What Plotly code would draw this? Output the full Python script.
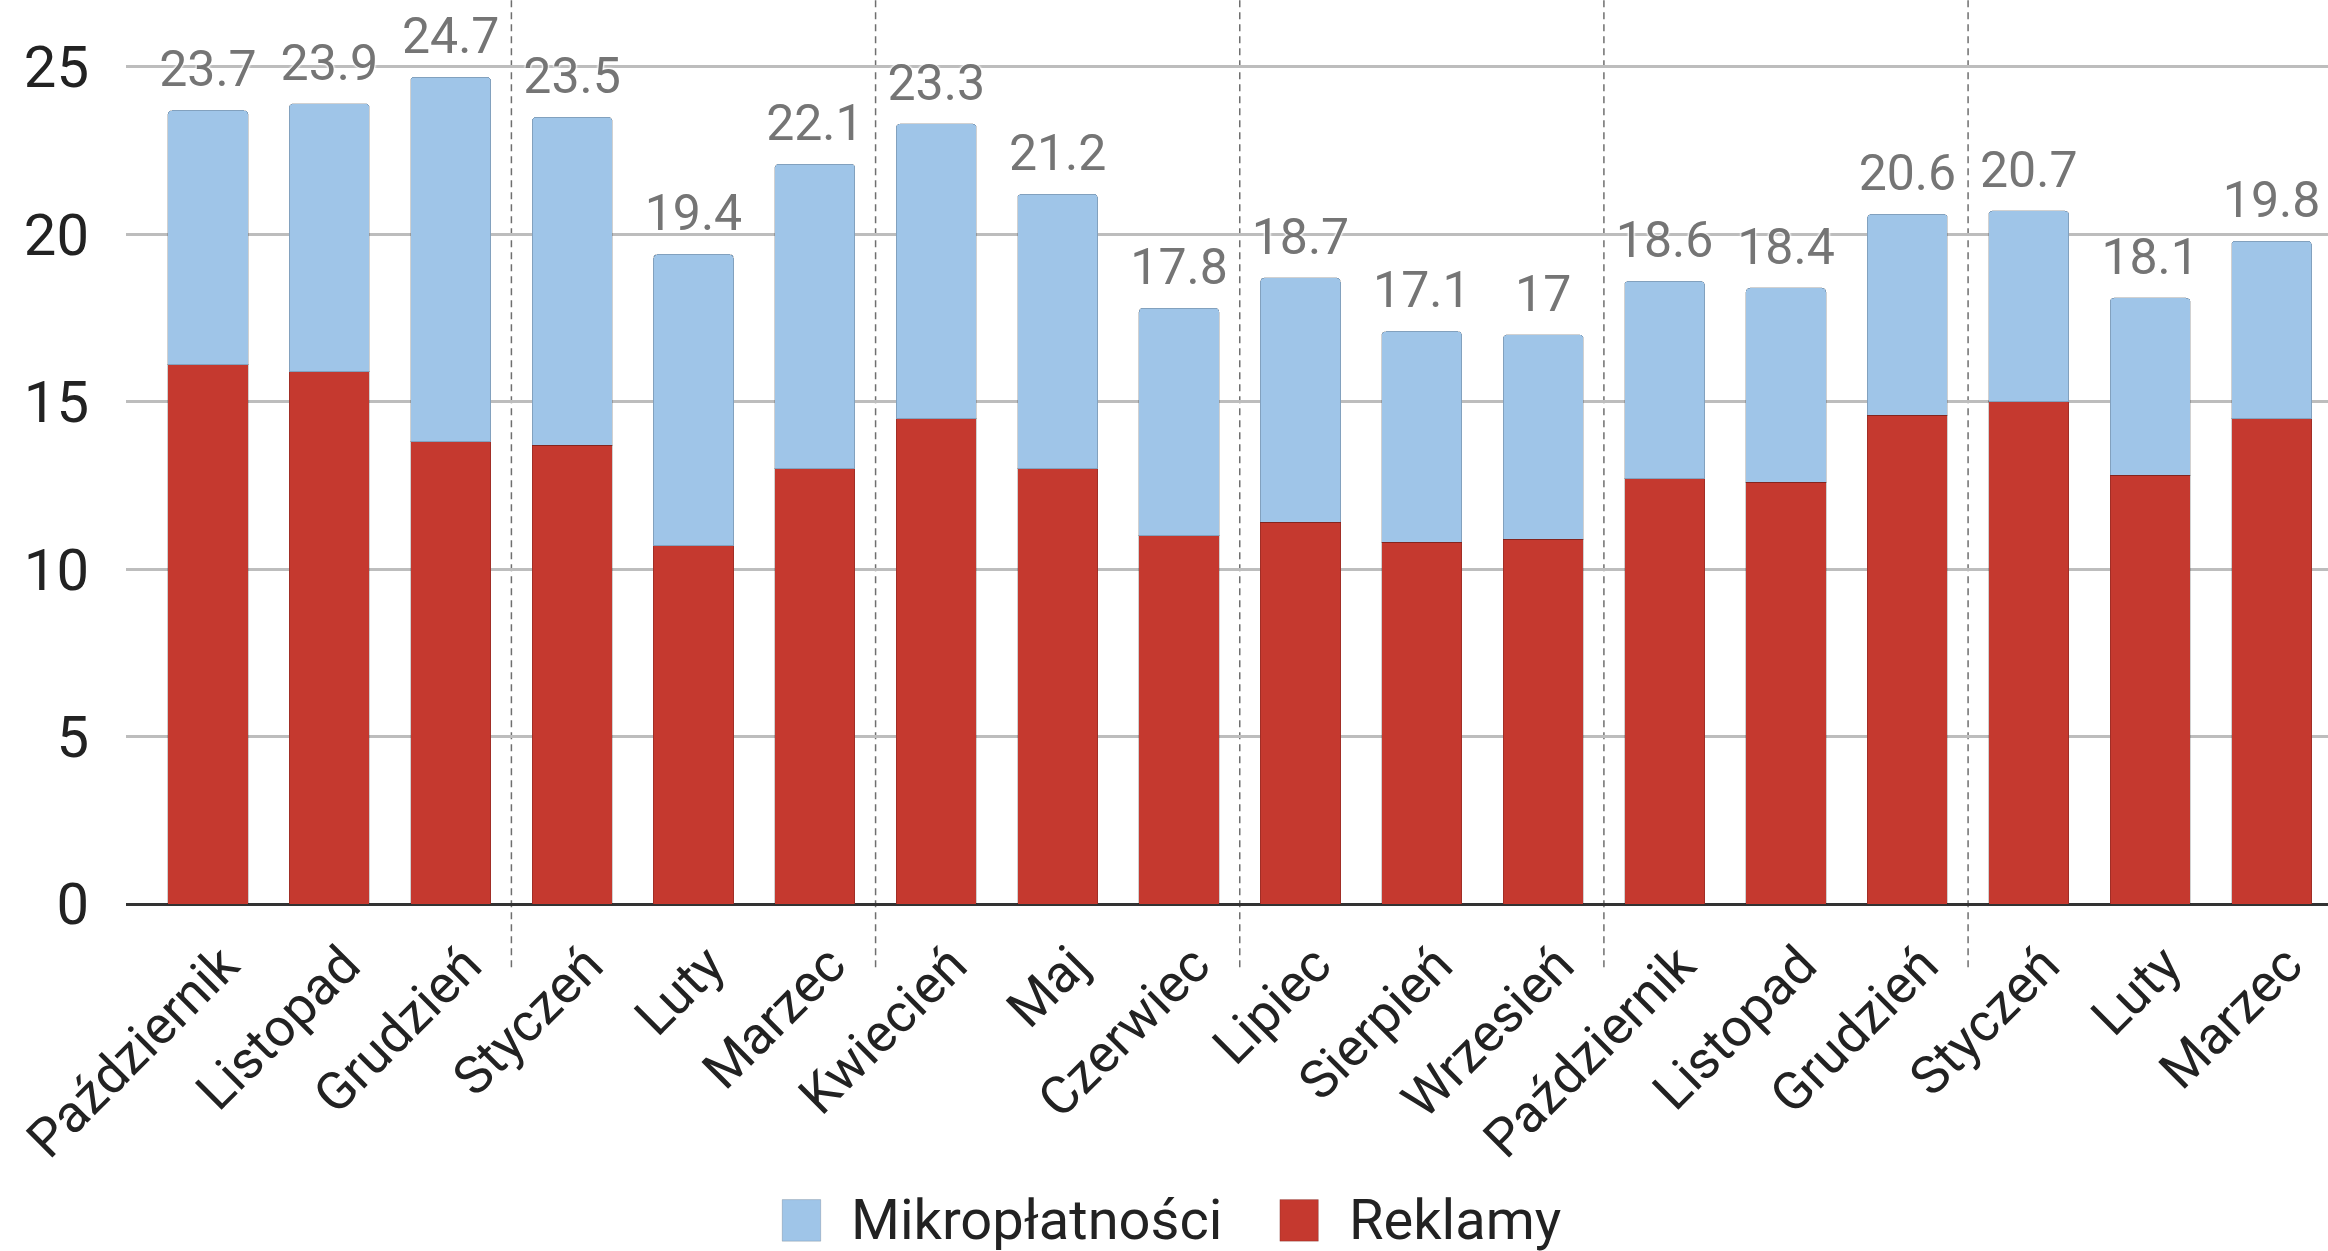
import plotly.graph_objects as go

months = ["Październik", "Listopad", "Grudzień", "Styczeń", "Luty", "Marzec",
          "Kwiecień", "Maj", "Czerwiec", "Lipiec", "Sierpień", "Wrzesień",
          "Październik", "Listopad", "Grudzień", "Styczeń", "Luty", "Marzec"]
reklamy = [16.1, 15.9, 13.8, 13.7, 10.7, 13.0, 14.5, 13.0, 11.0, 11.4, 10.8, 10.9,
           12.7, 12.6, 14.6, 15.0, 12.8, 14.5]
mikro = [7.6, 8.0, 10.9, 9.8, 8.7, 9.1, 8.8, 8.2, 6.8, 7.3, 6.3, 6.1,
         5.9, 5.8, 6.0, 5.7, 5.3, 5.3]
totals = [23.7, 23.9, 24.7, 23.5, 19.4, 22.1, 23.3, 21.2, 17.8, 18.7, 17.1, 17,
          18.6, 18.4, 20.6, 20.7, 18.1, 19.8]
# category boundaries where the dashed group separators sit
separators = [2.5, 5.5, 8.5, 11.5, 14.5]
series_names = ["Mikropłatności", "Reklamy"]

FONT = "Roboto"
RED = "#c5392f"
BLUE = "#9fc5e8"
x = list(range(len(months)))

fig = go.Figure()
fig.add_trace(go.Bar(x=x, y=reklamy, name=series_names[1], showlegend=False,
                     marker=dict(color=RED, line=dict(color="rgba(0,0,0,0.18)", width=1))))
fig.add_trace(go.Bar(x=x, y=mikro, name=series_names[0], showlegend=False,
                     marker=dict(color=BLUE, line=dict(color="rgba(0,0,0,0.18)", width=1))))
fig.add_trace(go.Scatter(x=x, y=totals, mode="markers+text", text=[f"{t:g}" for t in totals],
                         textposition="top center", showlegend=False, hoverinfo="skip",
                         marker=dict(size=17, opacity=0),
                         textfont=dict(family=FONT, size=50, color="#757575",
                                       shadow="0 0 3px #fff, 0 0 3px #fff, 0 0 2px #fff, 0 0 2px #fff")))

for s in separators:
    fig.add_shape(type="line", xref="x", yref="paper", x0=s, x1=s, y0=-0.07, y1=1,
                  line=dict(color="#6f6f6f", width=1.5, dash="7px,5px"), layer="below")

# legend drawn by hand so the swatches can be as big as in the original
for (sx, tx), name, col in zip([(0.298, 0.329), (0.524, 0.555)], series_names, [BLUE, RED]):
    fig.add_shape(type="rect", xref="paper", yref="paper", x0=sx, x1=sx + 0.0175,
                  y0=-0.373, y1=-0.327, fillcolor=col, line=dict(color="rgba(0,0,0,0.15)", width=1))
    fig.add_annotation(xref="paper", yref="paper", x=tx, y=-0.35, text=name, showarrow=False,
                       xanchor="left", yanchor="middle", borderpad=0,
                       font=dict(family=FONT, size=56, color="#222222"))

fig.update_layout(
    width=2328, height=1251,
    margin=dict(l=126, r=0, t=0, b=347),
    barmode="stack", bargap=0.34, barcornerradius=4,
    plot_bgcolor="white", paper_bgcolor="white",
    font=dict(family=FONT, color="#222222"),
    showlegend=False,
)
fig.update_xaxes(tickmode="array", tickvals=x, ticktext=months, tickangle=-45,
                 tickfont=dict(size=53, color="#222222"), range=[-0.675, 17.465],
                 showgrid=False, showline=False, ticks="", ticklabeloverflow="allow",
                 ticklabelstandoff=18, ticklabelshift=15, automargin=False)
fig.update_yaxes(range=[0, 27], tickvals=[0, 5, 10, 15, 20, 25], showgrid=True,
                 gridcolor="#bdbdbd", gridwidth=2.5, zeroline=True, zerolinecolor="#333333",
                 zerolinewidth=3, tickfont=dict(size=58, color="#222222"),
                 ticklabelstandoff=36, ticks="", automargin=False)

# the page body has a default 8px margin, drop it so the figure fills the window
fig.write_html("out.html", config={"displayModeBar": False},
               post_script="document.body.style.margin = '0';")
